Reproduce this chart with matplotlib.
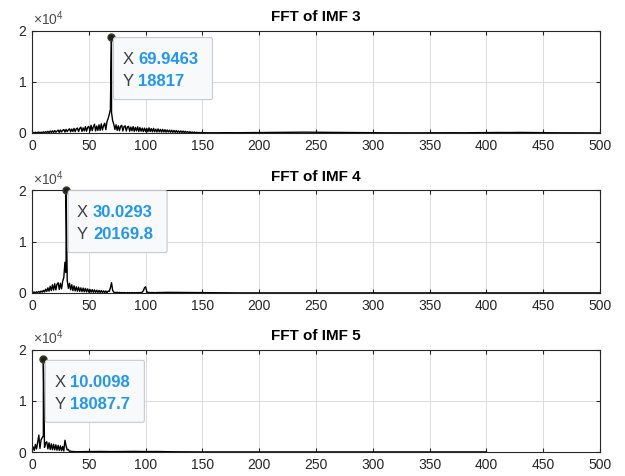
import matplotlib
matplotlib.use("Agg")
import matplotlib.pyplot as plt
import numpy as np
from matplotlib.patches import FancyBboxPatch
from matplotlib.transforms import IdentityTransform

# amplitudes: 1 Hz steps from 0 Hz, then a faint tail in 10 Hz steps
IMF3_LOW = [
    40, 120, 20, 150, 40, 110, 180, 30, 160, 50,
    220, 60, 260, 90, 320, 80, 380, 120, 420, 100,
    480, 150, 360, 560, 120, 600, 200, 520, 680, 180,
    700, 250, 620, 820, 240, 760, 300, 900, 260, 820,
    950, 280, 880, 1150, 320, 1000, 400, 1250, 350, 1100,
    1300, 380, 1500, 450, 1200, 1700, 400, 1350, 500, 1600,
    520, 1800, 600, 1450, 1900, 650, 2200, 2800, 3600, 4600,
    4000, 2400, 1700, 700, 1600, 500, 1400, 450, 1300, 1500,
    400, 1250, 1400, 380, 1200, 1300, 350, 1150, 420, 1250,
    330, 1100, 400, 1200, 300, 1050, 350, 950, 280, 950,
    300, 900, 250, 1000, 280, 850, 220, 900, 240, 750,
    200, 800, 220, 700, 180, 700, 200, 650, 160, 600,
    180, 560, 140, 540, 130, 500, 120, 480, 110, 420,
    100, 400, 90, 380, 80, 340, 70, 280, 60, 250,
    50, 200, 40, 180, 30, 150, 30, 120, 20, 90,
]
IMF3_TAIL = [50, 40, 60, 50, 70, 90, 120, 150, 130, 160, 140, 120, 90, 60, 50, 40,
             40, 30, 40, 30, 40, 30, 50, 40, 60, 80, 100, 90, 110, 80, 60, 40,
             30, 30, 20, 20]
IMF3_PEAK = (69.9463, 18817)

IMF4_LOW = [
    40, 120, 180, 40, 220, 90, 300, 80, 380, 150,
    520, 180, 750, 300, 1000, 350, 1300, 450, 1600, 550,
    1800, 600, 1700, 2000, 700, 1900, 800, 2300, 3000, 6000,
    4000, 2400, 900, 1900, 600, 1600, 450, 1400, 400, 1200,
    350, 1150, 300, 1000, 260, 950, 220, 900, 200, 800,
    180, 700, 150, 650, 130, 600, 120, 550, 100, 500,
    90, 480, 80, 420, 70, 400, 60, 380, 300, 1000,
    2000, 500, 150, 120, 60, 130, 50, 110, 40, 90,
    30, 80, 60, 20, 70, 30, 60, 20, 70, 30,
    60, 20, 80, 30, 90, 40, 110, 150, 400, 1000,
    1200, 300, 80, 120, 40, 100, 60, 90, 30, 70,
]
IMF4_TAIL = [80, 120, 100, 60, 40, 30, 30, 20, 30, 20, 20, 30, 20, 20, 20, 30,
             20, 20, 20, 20, 30, 20, 20, 20, 20, 20, 20, 20, 20, 20, 20, 20,
             20, 20, 20, 20, 20, 20, 20, 20]
IMF4_PEAK = (30.0293, 20169.8)

IMF5_LOW = [
    200, 1000, 300, 1500, 600, 1900, 3300, 700, 2400, 2800,
    3200, 900, 1800, 2000, 600, 1800, 500, 1600, 450, 1500,
    400, 1400, 350, 1300, 300, 1200, 250, 1100, 200, 2300,
    1200, 400, 500, 100, 200, 60, 120, 40, 90, 30,
]
IMF5_TAIL = [60, 90, 110, 80, 100, 120, 90, 100, 60, 40, 30, 20, 20, 20, 20, 20,
             20, 20, 20, 20, 20, 20, 20, 20, 20, 20, 20, 20, 20, 20, 20, 20,
             20, 20, 20, 20, 20]
IMF5_PEAK = (10.0098, 18087.7)

TITLES = ["FFT of IMF 3", "FFT of IMF 4", "FFT of IMF 5"]
X_TICKS = list(range(0, 501, 50))
Y_TICKS = [0, 10000, 20000]
Y_TICK_LABELS = ["0", "1", "2"]

plt.rcParams["font.family"] = "Liberation Sans"
plt.rcParams["mathtext.fontset"] = "custom"
plt.rcParams["mathtext.rm"] = "Liberation Sans"

INK = "#262626"
BLUE = "#2196f3"


def spectrum(low, tail, peak):
    f = np.concatenate([np.arange(len(low)),
                        len(low) + 10 * np.arange(len(tail)),
                        [peak[0]]])
    a = np.concatenate([low, tail, [peak[1]]])
    order = np.argsort(f)
    return f[order], a[order]


def datatip(ax, peak):
    fig = ax.figure
    x0, y0 = ax.transData.transform(peak)
    box = FancyBboxPatch((x0 + 2, y0 - 63), 99, 62,
                         boxstyle="round,pad=0,rounding_size=2",
                         transform=IdentityTransform(), facecolor="#f8f9fb",
                         edgecolor="#c6cad0", linewidth=0.8, zorder=6,
                         clip_on=False)
    fig.patches.append(box)
    for dy, name, val in [(-23, "X", peak[0]), (-45, "Y", peak[1])]:
        fig.text(x0 + 11, y0 + dy, name, transform=IdentityTransform(),
                 color="#404040", fontsize=12, va="center", ha="left", zorder=7)
        fig.text(x0 + 27, y0 + dy, f"{val:g}", transform=IdentityTransform(),
                 color=BLUE, fontsize=12, fontweight="bold",
                 va="center", ha="left", zorder=7)
    ax.plot(*peak, "o", ms=5, color="#1f1f1a", mec="#3d3d2a",
            clip_on=False, zorder=8)


fig = plt.figure(figsize=(6.25, 4.76), dpi=100)
bottoms = [0.7206, 0.3845, 0.0504]
data = [(IMF3_LOW, IMF3_TAIL, IMF3_PEAK),
        (IMF4_LOW, IMF4_TAIL, IMF4_PEAK),
        (IMF5_LOW, IMF5_TAIL, IMF5_PEAK)]

axes = []
for b, title, (low, tail, peak) in zip(bottoms, TITLES, data):
    ax = fig.add_axes([0.0512, b, 0.9088, 0.2153])
    f, a = spectrum(low, tail, peak)
    ax.plot(f, a, color="black", linewidth=1.0)
    ax.set_xlim(0, 500)
    ax.set_ylim(0, 20000)
    ax.set_xticks(X_TICKS)
    ax.set_yticks(Y_TICKS)
    ax.set_yticklabels(Y_TICK_LABELS)
    ax.grid(True, color="#dcdcdc", linewidth=0.7)
    ax.set_axisbelow(True)
    ax.tick_params(direction="in", length=3, width=0.8, top=True, right=True,
                   colors=INK, labelsize=10, pad=4)
    for s in ax.spines.values():
        s.set_color(INK)
        s.set_linewidth(0.8)
    ax.set_title(title, fontsize=11, fontweight="bold", pad=7)
    ax.text(0.002, 1.02, r"$\times\mathregular{10^{4}}$", transform=ax.transAxes,
            fontsize=10, color="#4a4a4a", ha="left", va="bottom")
    axes.append((ax, peak))

for ax, peak in axes:
    datatip(ax, peak)

fig.savefig("out.png", dpi=100)
